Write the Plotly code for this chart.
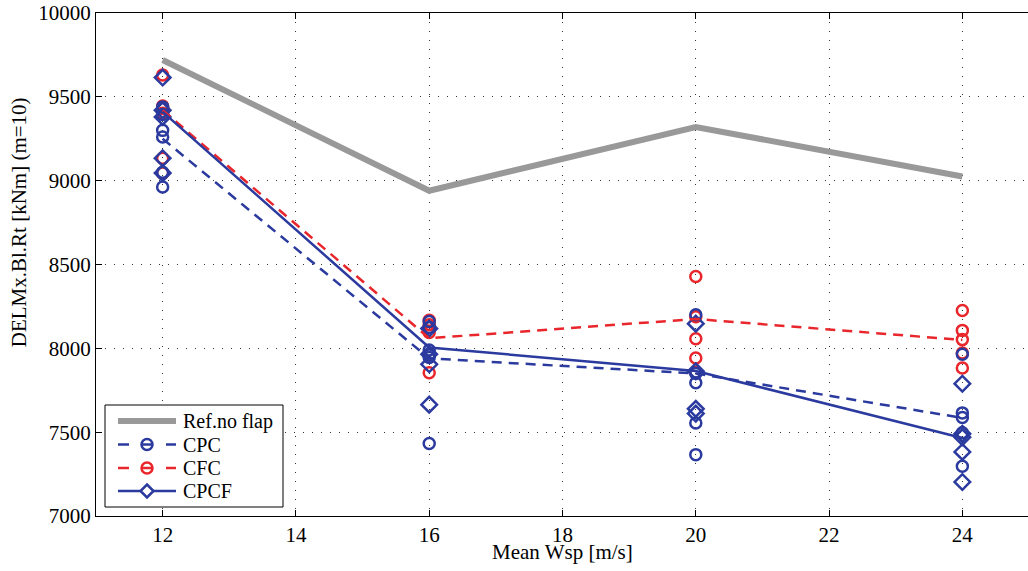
import plotly.graph_objects as go

# ---- data ----
wsp = [12, 16, 20, 24]
ref_no_flap = [9720, 8940, 9320, 9025]
cpc_line = [9250, 7940, 7850, 7585]
cfc_line = [9420, 8060, 8175, 8050]
cpcf_line = [9410, 8005, 7865, 7465]

cpc_pts = {
    12: [9440, 9395, 9300, 9260, 9050, 8962],
    16: [8160, 8125, 7990, 7960, 7945, 7432],
    20: [8200, 7850, 7795, 7555, 7366],
    24: [7965, 7615, 7588, 7496, 7297],
}
cfc_pts = {
    12: [9630, 9445, 9430, 9402, 9134, 9045],
    16: [8168, 8140, 8095, 7854],
    20: [8429, 8188, 8057, 7942, 7856],
    24: [8226, 8107, 8052, 7972, 7883],
}
cpcf_pts = {
    12: [9615, 9420, 9380, 9134, 9045],
    16: [8118, 7965, 7905, 7664],
    20: [8147, 7863, 7639, 7611],
    24: [7789, 7490, 7470, 7382, 7203],
}

series_names = ["Ref.no flap", "CPC", "CFC", "CPCF"]

BLUE = "#2b3a9e"
RED = "#e8262b"
GRAY = "#999999"
FONT = "Liberation Serif"
DASH = "10px,7px"

# plot area in pixels
L, R, T, B = 96, 1028, 13, 516


def flat(d):
    xs, ys = [], []
    for k, vals in d.items():
        xs += [k] * len(vals)
        ys += vals
    return xs, ys


def px(x):
    return (x - L) / (R - L)


def py(y):
    return (B - y) / (B - T)


fig = go.Figure()

fig.add_trace(go.Scatter(x=wsp, y=ref_no_flap, mode="lines", name=series_names[0],
                         line=dict(color=GRAY, width=6), showlegend=False))

x, y = flat(cfc_pts)
fig.add_trace(go.Scatter(x=x, y=y, mode="markers", showlegend=False,
                         marker=dict(symbol="circle-open", size=11, color=RED,
                                     line=dict(width=2.5, color=RED))))
x, y = flat(cpc_pts)
fig.add_trace(go.Scatter(x=x, y=y, mode="markers", showlegend=False,
                         marker=dict(symbol="circle-open", size=11, color=BLUE,
                                     line=dict(width=2.5, color=BLUE))))
x, y = flat(cpcf_pts)
fig.add_trace(go.Scatter(x=x, y=y, mode="markers", showlegend=False,
                         marker=dict(symbol="diamond-open", size=12, color=BLUE,
                                     line=dict(width=2.5, color=BLUE))))

fig.add_trace(go.Scatter(x=wsp, y=cfc_line, mode="lines", showlegend=False,
                         line=dict(color=RED, width=2.5, dash=DASH)))
fig.add_trace(go.Scatter(x=wsp, y=cpc_line, mode="lines", showlegend=False,
                         line=dict(color=BLUE, width=2.5, dash=DASH)))
fig.add_trace(go.Scatter(x=wsp, y=cpcf_line, mode="lines", showlegend=False,
                         line=dict(color=BLUE, width=2.5)))

axis_common = dict(showline=True, linecolor="black", linewidth=1,
                   ticks="inside", ticklen=6, tickcolor="black",
                   showgrid=True, gridcolor="#333333", gridwidth=1,
                   griddash="1px,8px", zeroline=False,
                   tickfont=dict(family=FONT, size=21, color="black"))

fig.update_xaxes(range=[11, 24.985], tickvals=[12, 14, 16, 18, 20, 22, 24],
                 mirror="ticks", **axis_common)
fig.update_yaxes(range=[7000, 10000], tickvals=[7000, 7500, 8000, 8500, 9000, 9500, 10000],
                 tickformat="d", mirror=False, **axis_common)

# ---- MATLAB-style legend box (drawn in paper coords) ----
box = dict(x0=105, x1=283, y0=405, y1=507)
rows_y = [421, 444.5, 468, 491]
line_x0, line_x1, mark_x, text_x = 118, 176, 147, 181
styles = [
    dict(color=GRAY, width=6, dash="solid", marker=None),
    dict(color=BLUE, width=2.5, dash="7px,5px", marker="circle"),
    dict(color=RED, width=2.5, dash="7px,5px", marker="circle"),
    dict(color=BLUE, width=2.5, dash="solid", marker="diamond"),
]

shapes = [dict(type="rect", xref="paper", yref="paper", layer="above",
               x0=px(box["x0"]), x1=px(box["x1"]), y0=py(box["y1"]), y1=py(box["y0"]),
               fillcolor="white", line=dict(color="black", width=1))]
annotations = []
for name, yy, st in zip(series_names, rows_y, styles):
    if st["dash"] == "solid":
        shapes.append(dict(type="line", xref="paper", yref="paper", layer="above",
                           x0=px(line_x0), x1=px(line_x1), y0=py(yy), y1=py(yy),
                           line=dict(color=st["color"], width=st["width"])))
    else:
        for a, b in [(line_x0, line_x0 + 11), (line_x1 - 10, line_x1)]:
            shapes.append(dict(type="line", xref="paper", yref="paper", layer="above",
                               x0=px(a), x1=px(b), y0=py(yy), y1=py(yy),
                               line=dict(color=st["color"], width=st["width"])))
    if st["marker"] == "circle":
        r = 5.5
        shapes.append(dict(type="circle", xref="paper", yref="paper", layer="above",
                           x0=px(mark_x - r), x1=px(mark_x + r),
                           y0=py(yy + r), y1=py(yy - r), fillcolor="white",
                           line=dict(color=st["color"], width=2.5)))
        shapes.append(dict(type="line", xref="paper", yref="paper", layer="above",
                           x0=px(mark_x - r), x1=px(mark_x + r), y0=py(yy), y1=py(yy),
                           line=dict(color=st["color"], width=2.5)))
    elif st["marker"] == "diamond":
        d = 6.5
        path = (f"M {px(mark_x)} {py(yy - d)} L {px(mark_x + d)} {py(yy)} "
                f"L {px(mark_x)} {py(yy + d)} L {px(mark_x - d)} {py(yy)} Z")
        shapes.append(dict(type="path", xref="paper", yref="paper", layer="above",
                           path=path, fillcolor="white",
                           line=dict(color=st["color"], width=2.5)))
    annotations.append(dict(text=name, xref="paper", yref="paper",
                            x=px(text_x), y=py(yy), xanchor="left", yanchor="middle",
                            showarrow=False,
                            font=dict(family=FONT, size=20, color="black")))

annotations += [
    dict(text="Mean Wsp [m/s]", xref="paper", yref="paper", x=0.5, y=0,
         yshift=-36, xanchor="center", yanchor="middle", showarrow=False,
         font=dict(family=FONT, size=21, color="black")),
    dict(text="DELMx.Bl.Rt [kNm] (m=10)", xref="paper", yref="paper",
         x=0, y=0.584, xshift=-77, xanchor="center", yanchor="middle",
         textangle=-90, showarrow=False,
         font=dict(family=FONT, size=21, color="black")),
]

fig.update_layout(
    width=1028, height=571,
    margin=dict(l=L, r=1028 - R, t=T, b=571 - B),
    plot_bgcolor="white", paper_bgcolor="white",
    font=dict(family=FONT, size=20, color="black"),
    showlegend=False,
    shapes=shapes,
    annotations=annotations,
)

fig.write_html("out.html")
